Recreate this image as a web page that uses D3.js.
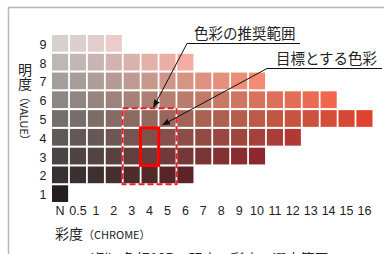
<!DOCTYPE html>
<html lang="ja">
<head>
<meta charset="UTF-8">
<title>明度・彩度</title>
<script src="https://d3js.org/d3.v7.min.js"></script>
<style>
  body { margin: 0; background: #fff; }
  svg { display: block; }
  .num { font-family: "Liberation Sans", Arial, sans-serif; font-size: 12.5px; fill: #222; }
  .jp { font-family: "Noto Sans CJK JP", sans-serif; fill: #222; }
</style>
</head>
<body>
<svg id="chart" width="384" height="254"></svg>
<script>
// Munsell value rows (top to bottom) and chroma columns
const values = [9, 8, 7, 6, 5, 4, 3, 2, 1];
const chromas = ["N", "0.5", "1", "2", "3", "4", "5", "6", "7", "8", "9", "10", "11", "12", "13", "14", "15", "16"];
// highest chroma that exists in each value row (same order as values)
const maxChroma = ["2", "6", "10", "14", "16", "12", "10", "6", "N"];
// recommended range and target
const rangeChroma = ["3", "5"], rangeValue = [5, 2];
const targetChroma = "4", targetValue = [4, 3];

const svg = d3.select("#chart");

const x = d3.scaleBand().domain(chromas).range([52, 372.5]).paddingInner(0.1).paddingOuter(0);
const y = d3.scaleBand().domain(values).range([35, 202]).paddingInner(0.11).paddingOuter(0);
const bw = x.bandwidth(), bh = y.bandwidth();

const num = c => c === "N" ? 0 : +c;
const light = d3.scaleLinear().domain([1, 2, 5, 8, 9]).range([12, 21, 47, 75, 84]);
const hue = d3.scaleLinear().domain([1, 3, 5, 7, 9]).range([22, 26, 38, 38, 22]);
const color = (v, c) => d3.hcl(hue(v), 3 + num(c) * 4.6, light(v) + num(c) * 0.35).formatHex();

// frame
svg.append("path")
  .attr("d", "M8.5,260V7.5H390")
  .attr("fill", "none").attr("stroke", "#b8b8b8").attr("stroke-width", 1.5);

// cells
const cells = [];
values.forEach((v, i) => {
  const last = chromas.indexOf(maxChroma[i]);
  chromas.slice(0, last + 1).forEach(c => cells.push({ v, c }));
});

svg.append("g").selectAll("rect")
  .data(cells)
  .join("rect")
  .attr("x", d => x(d.c))
  .attr("y", d => y(d.v))
  .attr("width", bw)
  .attr("height", bh)
  .attr("fill", d => color(d.v, d.c));

// axis labels
svg.append("g").selectAll("text")
  .data(chromas)
  .join("text")
  .attr("class", "num")
  .attr("x", d => x(d) + bw / 2)
  .attr("y", 215)
  .attr("text-anchor", "middle")
  .text(d => d);

svg.append("g").selectAll("text")
  .data(values)
  .join("text")
  .attr("class", "num")
  .attr("x", 43)
  .attr("y", d => y(d) + bh / 2 + 5.5)
  .attr("text-anchor", "middle")
  .attr("font-size", 13)
  .text(d => d);

// axis titles
const xt = svg.append("text").attr("class", "jp").attr("x", 55).attr("y", 239);
xt.append("tspan").attr("font-size", 14).text("彩度");
xt.append("tspan").attr("font-size", 11).text("（CHROME）");

const yt = svg.append("text").attr("class", "jp")
  .attr("x", 25).attr("y", 63)
  .style("writing-mode", "vertical-rl");
yt.append("tspan").attr("font-size", 14).text("明度");
yt.append("tspan").attr("font-size", 11).text("（VALUE）");

// recommended range (dashed) and target (solid)
svg.append("rect")
  .attr("x", x(rangeChroma[0]) - 1)
  .attr("y", y(rangeValue[0]) - 2)
  .attr("width", x(rangeChroma[1]) + bw - x(rangeChroma[0]) + 2)
  .attr("height", y(rangeValue[1]) + bh - y(rangeValue[0]) + 3)
  .attr("fill", "none").attr("stroke", "#ee1c24").attr("stroke-width", 2)
  .attr("stroke-dasharray", "6 3");

svg.append("rect")
  .attr("x", x(targetChroma) - 1)
  .attr("y", y(targetValue[0]) - 1)
  .attr("width", bw + 2)
  .attr("height", y(targetValue[1]) + bh - y(targetValue[0]) + 2)
  .attr("fill", "none").attr("stroke", "#ff0000").attr("stroke-width", 3);

// leaders
svg.append("defs").append("marker")
  .attr("id", "arr").attr("viewBox", "0 0 10 10")
  .attr("refX", 9).attr("refY", 5)
  .attr("markerWidth", 8).attr("markerHeight", 8)
  .attr("markerUnits", "userSpaceOnUse")
  .attr("orient", "auto")
  .append("path").attr("d", "M0,1L10,5L0,9Z").attr("fill", "#111");

const cx4 = x(targetChroma) + bw / 2;
svg.append("path")
  .attr("d", `M300,43.5H187L${cx4 + 4},${y(rangeValue[0]) - 3}`)
  .attr("fill", "none").attr("stroke", "#111").attr("stroke-width", 1)
  .attr("marker-end", "url(#arr)");

svg.append("path")
  .attr("d", `M382,68.5H267L${x(targetChroma) + bw + 5},${y(targetValue[0]) - 4}`)
  .attr("fill", "none").attr("stroke", "#111").attr("stroke-width", 1)
  .attr("marker-end", "url(#arr)");

svg.append("text").attr("class", "jp").attr("font-size", 14.5)
  .attr("x", 194).attr("y", 39).text("色彩の推奨範囲");
svg.append("text").attr("class", "jp").attr("font-size", 14.5)
  .attr("x", 276).attr("y", 64).text("目標とする色彩");

// caption, only its top shows at the bottom edge as in the reference
svg.append("text").attr("class", "jp").attr("font-size", 14)
  .attr("x", 80).attr("y", 264).text("（例）色相10Rの明度・彩度の選定範囲");
</script>
</body>
</html>
